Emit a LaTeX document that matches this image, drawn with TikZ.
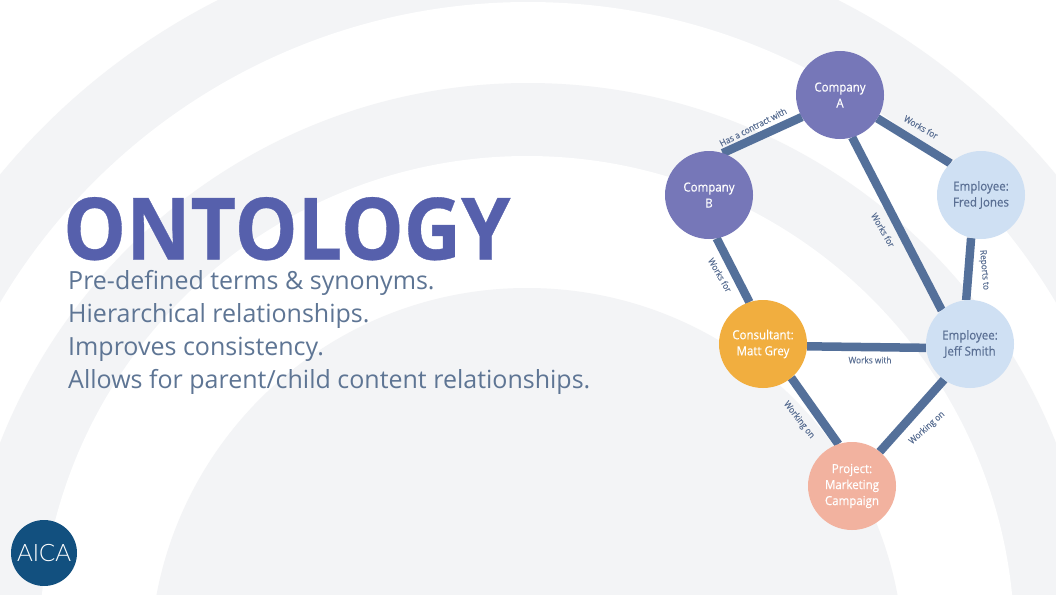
\documentclass[tikz,border=0pt]{standalone}
\usepackage{fontspec}
\usepackage{graphicx}
\setmainfont{Open Sans}
\newfontfamily\titlefont[FakeStretch=0.92,FakeBold=0.4]{Open Sans Bold}
\newfontfamily\nodefont[FakeStretch=0.92,FakeBold=0.4]{Open Sans}
\newfontfamily\labelfont[FakeStretch=0.92,FakeBold=0.2]{Open Sans}
\newfontfamily\bodyfont{Open Sans}
\newfontfamily\logofont{Lato Light}
\usetikzlibrary{backgrounds}
\definecolor{ringgray}{HTML}{F3F4F6}
\definecolor{titleblue}{HTML}{5660AC}
\definecolor{bodyblue}{HTML}{5E7594}
\definecolor{linkblue}{HTML}{54709A}
\definecolor{companyfill}{HTML}{7677B8}
\definecolor{employeefill}{HTML}{CFE0F3}
\definecolor{consultfill}{HTML}{F1AE3F}
\definecolor{projectfill}{HTML}{F2B29F}
\definecolor{logofill}{HTML}{12507F}
\definecolor{employeetext}{HTML}{5A6F93}
\tikzset{
  x=1pt,y=-1pt,
  entity/.style={circle,minimum size=88pt,inner sep=0pt,outer sep=0pt,align=center,
    font=\nodefont\fontsize{12.5}{16}\selectfont,execute at begin node={\rule{0pt}{13pt}}},
  company/.style={entity,fill=companyfill,text=white},
  employee/.style={entity,fill=employeefill,text=employeetext},
  consultant/.style={entity,fill=consultfill,text=white},
  project/.style={entity,fill=projectfill,text=white},
  link/.style={draw=linkblue,line width=8.5pt},
  linklabel/.style={text=employeetext,inner sep=0pt,font=\labelfont\fontsize{9}{11}\selectfont},
  bodyline/.style={anchor=base west,inner sep=0pt,text=bodyblue,font=\bodyfont\fontsize{25}{30}\selectfont},
}
\begin{document}
\begin{tikzpicture}
\useasboundingbox (0,0) rectangle (1056,594);
% nodes
\node[company] (compA) at (840,95) {Company\\A};
\node[company] (compB) at (709,195) {Company\\B};
\node[employee] (fred) at (981,195) {Employee:\\Fred Jones};
\node[consultant] (matt) at (763,344) {Consultant:\\Matt Grey};
\node[employee] (jeff) at (970,344) {Employee:\\Jeff Smith};
\node[project] (proj) at (852,486) {Project:\\Marketing\\Campaign};
% labels
\node[linklabel,rotate=27] (l1) at (753,127) {Has a contract with};
\node[linklabel,rotate=-30] (l2) at (921,127) {Works for};
\node[linklabel,rotate=-60] (l3) at (883,230) {Works for};
\node[linklabel,rotate=-85] (l4) at (984,270) {Reports to};
\node[linklabel,rotate=-60] (l5) at (720,275) {Works for};
\node[linklabel] (l6) at (870,360) {Works with};
\node[linklabel,rotate=-52] (l7) at (799,420) {Working on};
\node[linklabel,rotate=42] (l8) at (927,428) {Working on};
% text
\node[anchor=base west,inner sep=0pt,text=titleblue,font=\titlefont\fontsize{86}{86}\selectfont] (title) at (63,259.5) {ONTOLOGY};
\node[bodyline] (b1) at (68,289) {Pre-defined terms \& synonyms.};
\node[bodyline] (b2) at (68,322) {Hierarchical relationships.};
\node[bodyline] (b3) at (68,355) {Improves consistency.};
\node[bodyline] (b4) at (68,388) {Allows for parent/child content relationships.};
% logo
\node[circle,fill=logofill,minimum size=66pt,inner sep=0pt,text=white,font=\logofont\fontsize{24}{24}\selectfont] (logo) at (44,553) {AICA};
\begin{pgfonlayer}{background}
\begin{scope}
\clip (0,0) rectangle (1056,594);
\fill[white] (0,0) rectangle (1056,594);
\fill[ringgray] (528,611) circle[radius=685pt];
\fill[white] (528,615.6) circle[radius=613.6pt];
\fill[ringgray] (528,650) circle[radius=567pt];
\fill[white] (527,643.5) circle[radius=487.5pt];
\fill[ringgray] (527,665) circle[radius=377pt];
\end{scope}
\draw[link] (compA.210) -- (compB.72);
\draw[link] (compA.-32) -- (fred.134);
\draw[link] (compA.-74) -- (jeff.130);
\draw[link] (fred.-103) -- (jeff.95);
\draw[link] (compB.-80) -- (matt.108);
\draw[link] (matt.-3) -- (jeff.185);
\draw[link] (matt.-50) -- (proj.108);
\draw[link] (jeff.234) -- (proj.51);
\end{pgfonlayer}
\end{tikzpicture}
\end{document}
